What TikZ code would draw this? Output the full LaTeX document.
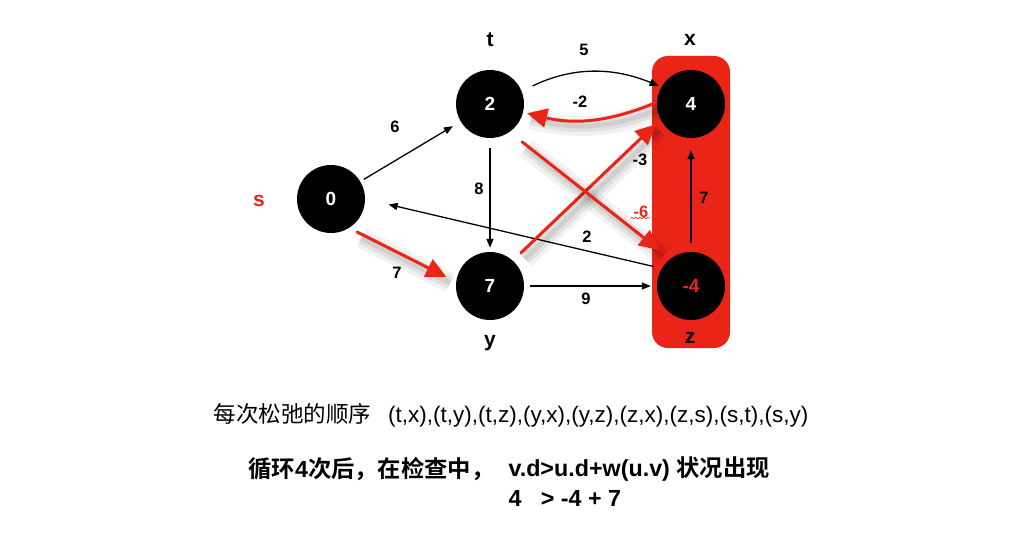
\documentclass[tikz,border=0pt]{standalone}
\usepackage{fontspec}
\setmainfont{Liberation Sans}
\newfontfamily\cjk{Noto Sans CJK SC}[BoldFont={Noto Sans CJK SC Bold}]
\usetikzlibrary{arrows.meta,decorations.pathmorphing,calc}
\definecolor{myred}{RGB}{234,36,22}
\begin{document}
\begin{tikzpicture}[x=1pt,y=-1pt,
 vtx/.style={circle,fill=black,minimum size=68pt,inner sep=0pt,text=white,font=\bfseries\fontsize{19}{22}\selectfont},
 vname/.style={font=\bfseries\fontsize{21}{24}\selectfont},
 elabel/.style={font=\bfseries\fontsize{16.5}{19}\selectfont},
 edge/.style={line width=1.3pt,-{Triangle[length=9pt,width=7pt]}},
 redarrow/.style={draw=myred,line width=3pt,line cap=round,-{Triangle[length=20pt,width=19pt]},
   preaction={draw=black,opacity=0.05,line width=20pt,-,transform canvas={shift={(4pt,-6pt)}}},
   preaction={draw=black,opacity=0.07,line width=12pt,-,transform canvas={shift={(4pt,-6pt)}}},
   preaction={draw=black,opacity=0.08,line width=5pt,-,transform canvas={shift={(4pt,-6pt)}}}},
 bottomtext/.style={font=\fontsize{22.5}{26}\selectfont},
 boldtext/.style={font=\bfseries\fontsize{23.3}{27}\selectfont,anchor=west},
 ]
\useasboundingbox (0,0) rectangle (1024,543);
% highlight box
\node[fill=myred,rounded corners=16pt,minimum width=78pt,minimum height=292pt,inner sep=0pt] (box) at (691,202) {};
% vertices
\node[vtx] (s) at (331,199) {0};
\node[vtx] (t) at (490,104) {2};
\node[vtx] (x) at (691,104) {4};
\node[vtx] (y) at (490,286) {7};
\node[vtx] (z) at (691,286) {\textcolor{myred}{-4}};
% vertex names
\node[vname,text=myred] (sn) at (259,201) {s};
\node[vname] (tn) at (490,40) {t};
\node[vname] (xn) at (690,40) {x};
\node[vname] (yn) at (490,343) {y};
\node[vname] (zn) at (690,338) {z};
% black edges
\draw[edge,shorten <=4pt,shorten >=9pt] (s) -- (t);
\draw[edge,shorten <=12pt,shorten >=3pt] (t.22) to[bend left=24] (x.150);
\draw[edge,shorten <=10pt,shorten >=4pt] (t) -- (y);
\draw[edge,shorten <=6pt,shorten >=6pt] (y) -- (z);
\draw[edge,shorten <=9pt,shorten >=12pt] (z) -- (x);
\draw[edge,shorten <=8pt,shorten >=24pt] (z.149) -- (s.0);
% red edges
\draw[redarrow,shorten <=2pt,shorten >=4pt] (x.177) to[bend left=18] (t.-14);
\draw[redarrow,shorten <=9pt,shorten >=11pt] (s.-58) -- (y.173);
\draw[redarrow,shorten <=11pt,shorten >=7pt] (y.48) -- (x.207);
\draw[redarrow,shorten <=16pt,shorten >=14pt] (t.-55) -- (z.127);
% edge labels
\node[elabel] (l5) at (584,50) {5};
\node[elabel] (lm2) at (580,102) {-2};
\node[elabel] (l6) at (395,127) {6};
\node[elabel] (l8) at (479,189) {8};
\node[elabel] (lm3) at (640,160) {-3};
\node[elabel,text=myred,inner sep=1pt] (lm6) at (641,212) {-6};
\draw[myred,line width=0.6pt,decorate,decoration={snake,amplitude=0.8pt,segment length=4pt}] ($(lm6.south west)+(-2,-1)$) -- ($(lm6.south east)+(0,-1)$);
\node[elabel] (l7a) at (704,198) {7};
\node[elabel] (l2) at (587,237) {2};
\node[elabel] (l7b) at (397,273) {7};
\node[elabel] (l9) at (586,299) {9};
% bottom text
\node[bottomtext,anchor=west] (t1) at (210,415) {{\cjk 每次松弛的顺序}\hspace{17pt}(t,x),(t,y),(t,z),(y,x),(y,z),(z,x),(z,s),(s,t),(s,y)};
\node[boldtext] (t2a) at (245,469) {{\cjk\bfseries 循环}4{\cjk\bfseries 次后，在检查中，}};
\node[boldtext] (t2b) at (505,469) {v.d>u.d+w(u.v) {\cjk\bfseries 状况出现}};
\node[boldtext] (t3) at (505,498) {4\ \ \ > -4 + 7};
\end{tikzpicture}
\end{document}
